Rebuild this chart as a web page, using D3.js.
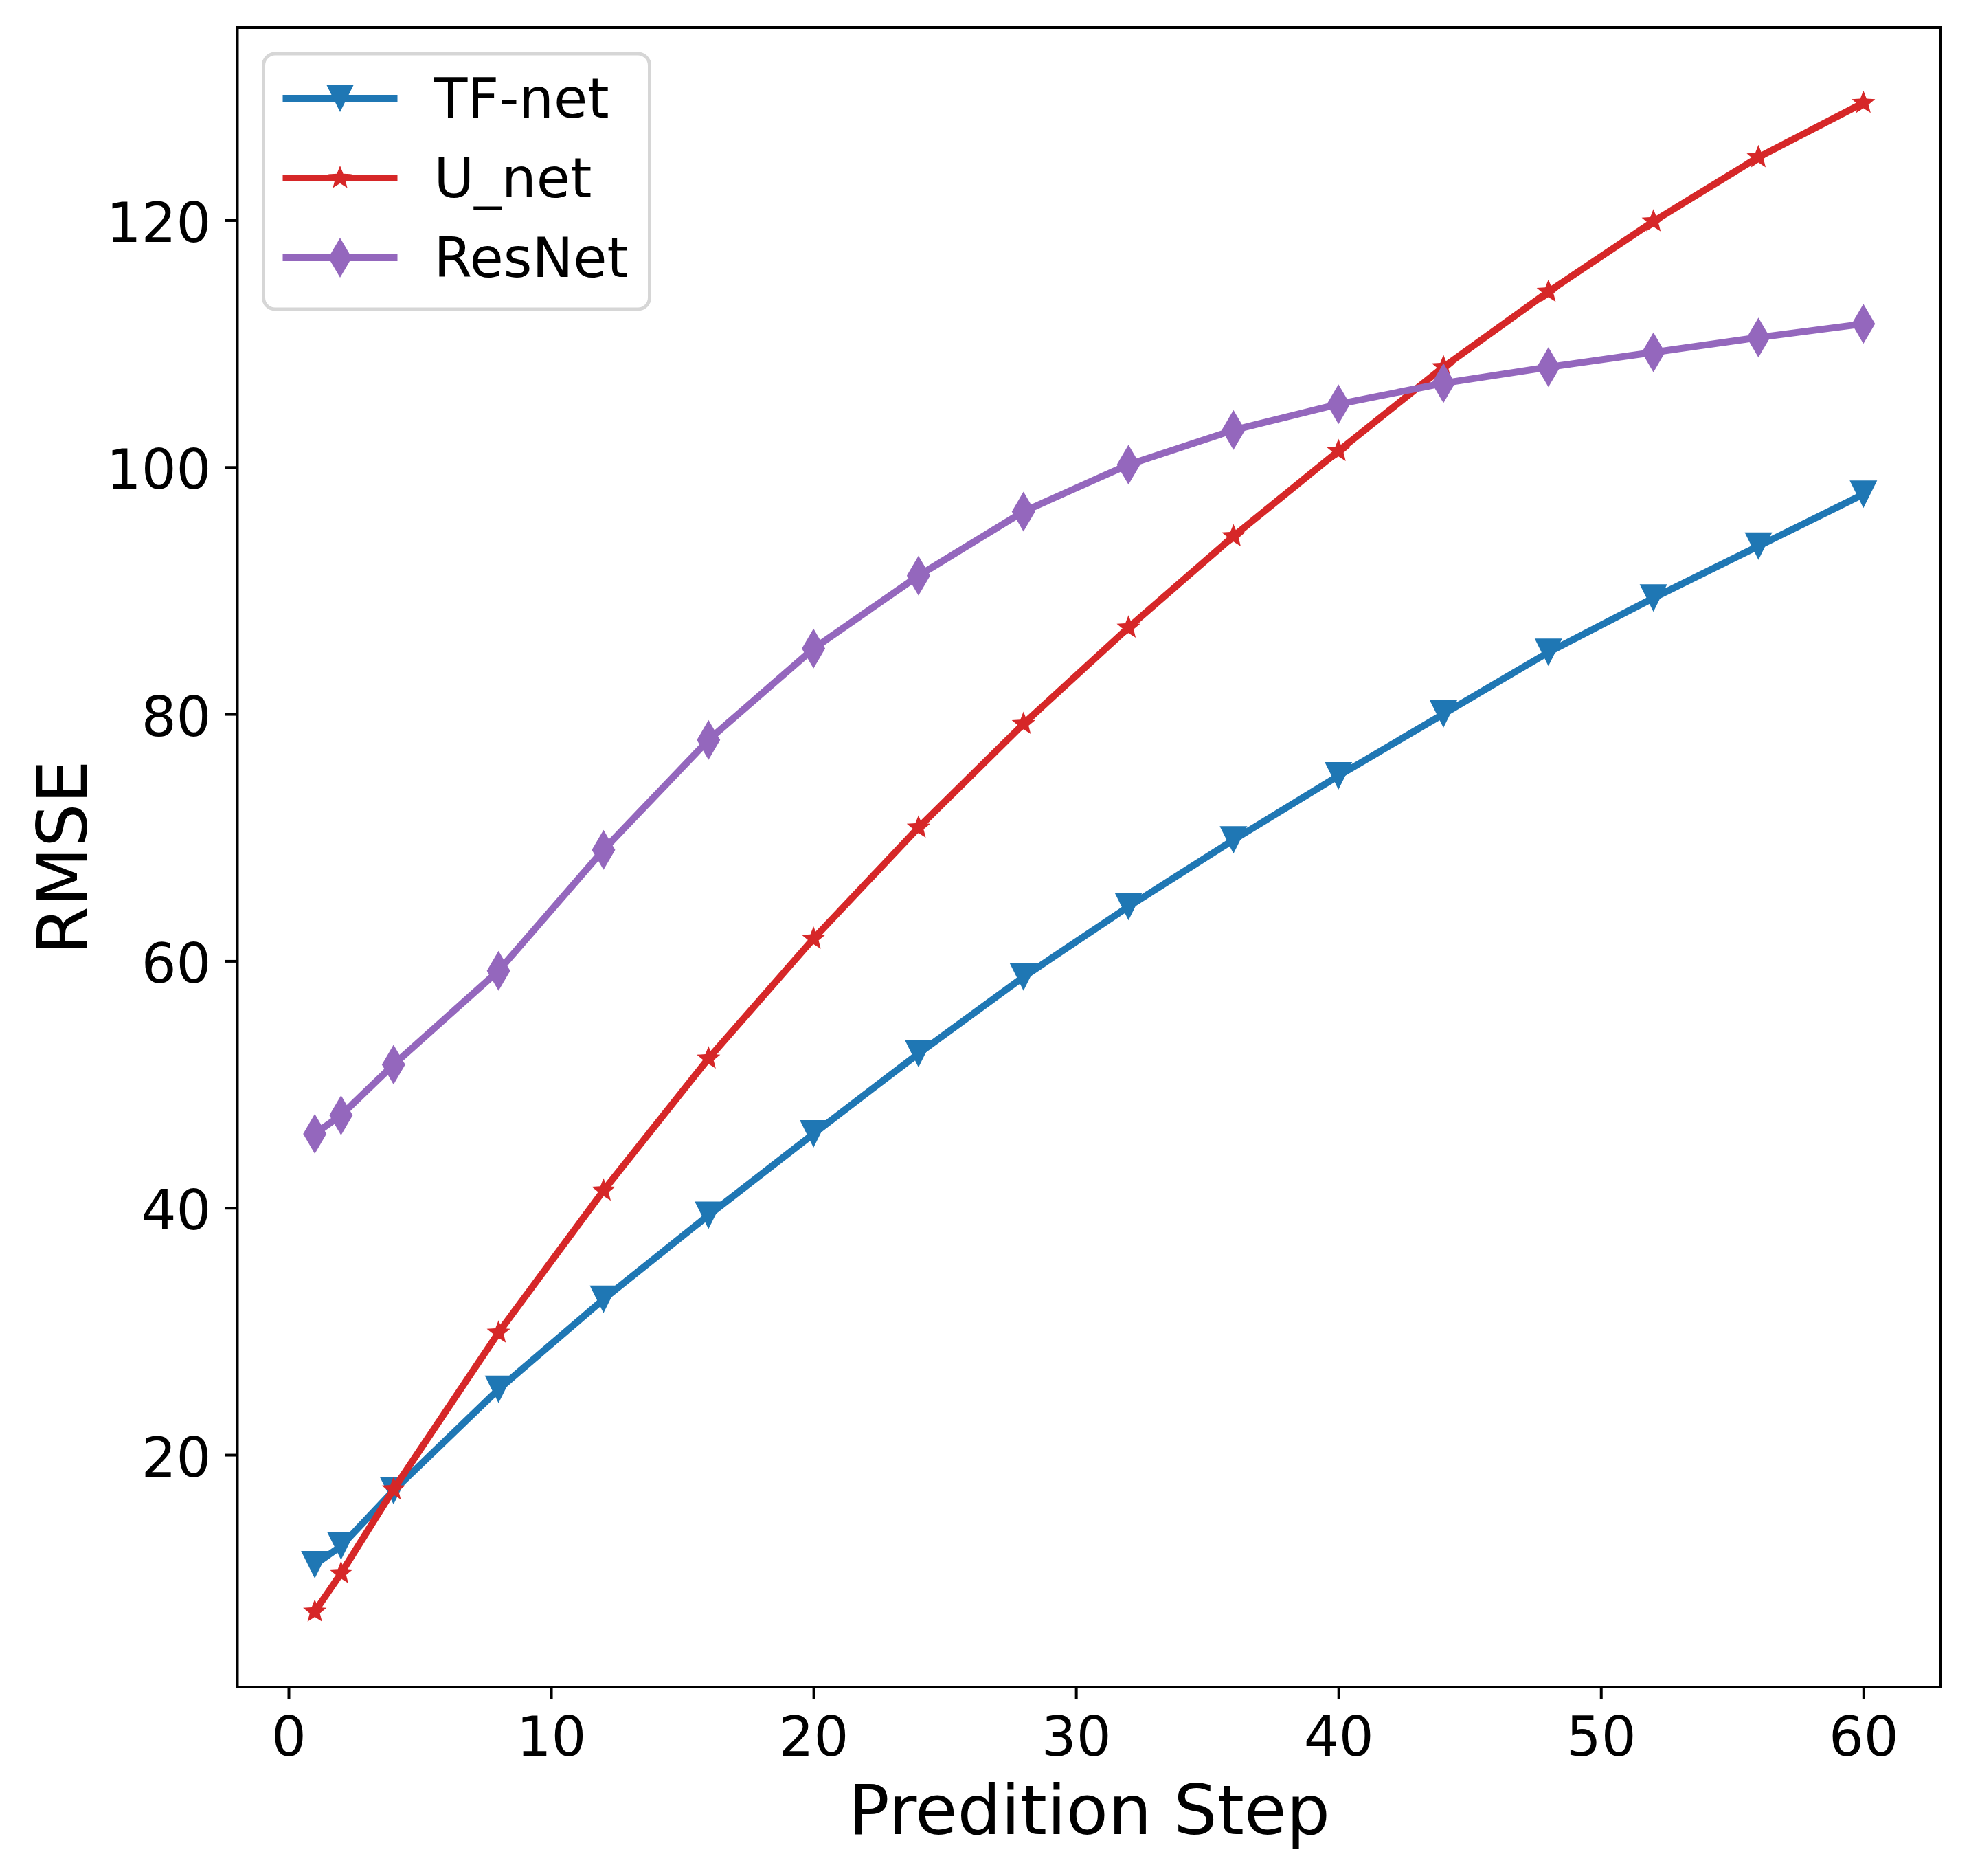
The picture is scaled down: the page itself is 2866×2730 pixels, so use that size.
<!DOCTYPE html>
<html>
<head>
<meta charset="utf-8">
<script src="https://cdn.jsdelivr.net/npm/d3@7"></script>
<style>
  body { margin: 0; background: #fff; }
  svg { display: block; }
</style>
</head>
<body>
<svg id="chart"></svg>
<script>
// values
const steps = [1, 2, 4, 8, 12, 16, 20, 24, 28, 32, 36, 40, 44, 48, 52, 56, 60];
const tfNet = [11.1, 12.6, 17.1, 25.3, 32.6, 39.4, 46.0, 52.5, 58.7, 64.4, 69.8, 75.0, 80.0, 85.0, 89.4, 93.6, 97.8];
const uNet = [7.3, 10.4, 17.2, 29.9, 41.4, 52.1, 61.8, 70.8, 79.2, 87.0, 94.4, 101.3, 108.1, 114.2, 119.9, 125.1, 129.5];
const resNet = [46.0, 47.5, 51.6, 59.2, 69.0, 77.9, 85.3, 91.2, 96.4, 100.2, 103.0, 105.1, 106.8, 108.1, 109.3, 110.5, 111.6];
const seriesNames = ["TF-net", "U_net", "ResNet"];
const xTicks = [0, 10, 20, 30, 40, 50, 60];
const yTicks = [20, 40, 60, 80, 100, 120];

const width = 2866;
const height = 2730;
const margin = {top: 40, right: 41, bottom: 275, left: 345.5};
const font = "DejaVu Sans";

const series = [
  {name: seriesNames[0], values: tfNet, color: "#1f77b4", marker: "tri"},
  {name: seriesNames[1], values: uNet, color: "#d62728", marker: "star"},
  {name: seriesNames[2], values: resNet, color: "#9467bd", marker: "diamond"}
];

// matplotlib style 5% margins on both axes
function padded(lo, hi) {
  const m = (hi - lo) * 0.05;
  return [lo - m, hi + m];
}
const allY = tfNet.concat(uNet, resNet);

const svg = d3.select("#chart")
  .attr("width", width)
  .attr("height", height);

const x = d3.scaleLinear()
  .domain(padded(d3.min(steps), d3.max(steps)))
  .range([margin.left, width - margin.right]);
const y = d3.scaleLinear()
  .domain(padded(d3.min(allY), d3.max(allY)))
  .range([height - margin.bottom, margin.top]);

function markerPath(type) {
  if (type === "tri") {
    const h = 20;
    return `M0,${h}L${-h},${-h}L${h},${-h}Z`;
  }
  if (type === "diamond") {
    return "M0,-29L17,0L0,29L-17,0Z";
  }
  // five point star
  const R = 18, r = 7.8;
  let p = "";
  for (let i = 0; i < 10; i++) {
    const a = -Math.PI / 2 + i * Math.PI / 5;
    const rad = i % 2 === 0 ? R : r;
    p += (i === 0 ? "M" : "L") + (rad * Math.cos(a)).toFixed(2) + "," + (rad * Math.sin(a)).toFixed(2);
  }
  return p + "Z";
}

const line = d3.line()
  .x((d, i) => x(steps[i]))
  .y((d) => y(d));

// lines + markers, one series after the other
series.forEach(function(s) {
  const g = svg.append("g").attr("class", "series");
  g.append("path")
    .datum(s.values)
    .attr("d", line)
    .attr("fill", "none")
    .attr("stroke", s.color)
    .attr("stroke-width", 10)
    .attr("stroke-linejoin", "round");
  g.selectAll("path.marker")
    .data(s.values)
    .enter().append("path")
    .attr("class", "marker")
    .attr("d", markerPath(s.marker))
    .attr("transform", (d, i) => `translate(${x(steps[i])},${y(d)})`)
    .attr("fill", s.color);
});

// axes
const xAxis = svg.append("g")
  .attr("transform", `translate(0,${height - margin.bottom})`)
  .call(d3.axisBottom(x).tickValues(xTicks).tickSize(18).tickPadding(25).tickSizeOuter(0));
const yAxis = svg.append("g")
  .attr("transform", `translate(${margin.left},0)`)
  .call(d3.axisLeft(y).tickValues(yTicks).tickSize(18).tickPadding(20).tickSizeOuter(0));

[xAxis, yAxis].forEach(function(a) {
  a.select(".domain").remove();
  a.selectAll(".tick line").attr("stroke", "#000").attr("stroke-width", 4);
  a.selectAll(".tick text")
    .attr("fill", "#000")
    .style("font-family", font)
    .style("font-size", "80px");
});
yAxis.selectAll(".tick text").attr("dy", "0.39em");

// frame
svg.append("rect")
  .attr("x", margin.left)
  .attr("y", margin.top)
  .attr("width", width - margin.left - margin.right)
  .attr("height", height - margin.top - margin.bottom)
  .attr("fill", "none")
  .attr("stroke", "#000")
  .attr("stroke-width", 4);

// axis titles
svg.append("text")
  .attr("x", (margin.left + width - margin.right) / 2)
  .attr("y", 2669)
  .attr("text-anchor", "middle")
  .style("font-family", font)
  .style("font-size", "100px")
  .text("Predition Step");
svg.append("text")
  .attr("transform", `translate(126,${(margin.top + height - margin.bottom) / 2}) rotate(-90)`)
  .attr("text-anchor", "middle")
  .style("font-family", font)
  .style("font-size", "100px")
  .text("RMSE");

// legend
const legend = svg.append("g")
  .attr("transform", `translate(${margin.left + 38},${margin.top + 38})`);
legend.append("rect")
  .attr("width", 562)
  .attr("height", 372)
  .attr("rx", 17)
  .attr("fill", "#fff")
  .attr("stroke", "#d6d6d6")
  .attr("stroke-width", 5);

const rowHeight = 116;
const rows = legend.selectAll("g.row")
  .data(series)
  .enter().append("g")
  .attr("class", "row")
  .attr("transform", (d, i) => `translate(0,${65 + i * rowHeight})`);
rows.append("line")
  .attr("x1", 28)
  .attr("x2", 195)
  .attr("stroke", (d) => d.color)
  .attr("stroke-width", 10);
rows.append("path")
  .attr("d", (d) => markerPath(d.marker))
  .attr("transform", "translate(111.5,0)")
  .attr("fill", (d) => d.color);
rows.append("text")
  .attr("x", 248)
  .attr("dy", "0.35em")
  .style("font-family", font)
  .style("font-size", "80px")
  .attr("fill", "#000")
  .text((d) => d.name);
</script>
</body>
</html>
